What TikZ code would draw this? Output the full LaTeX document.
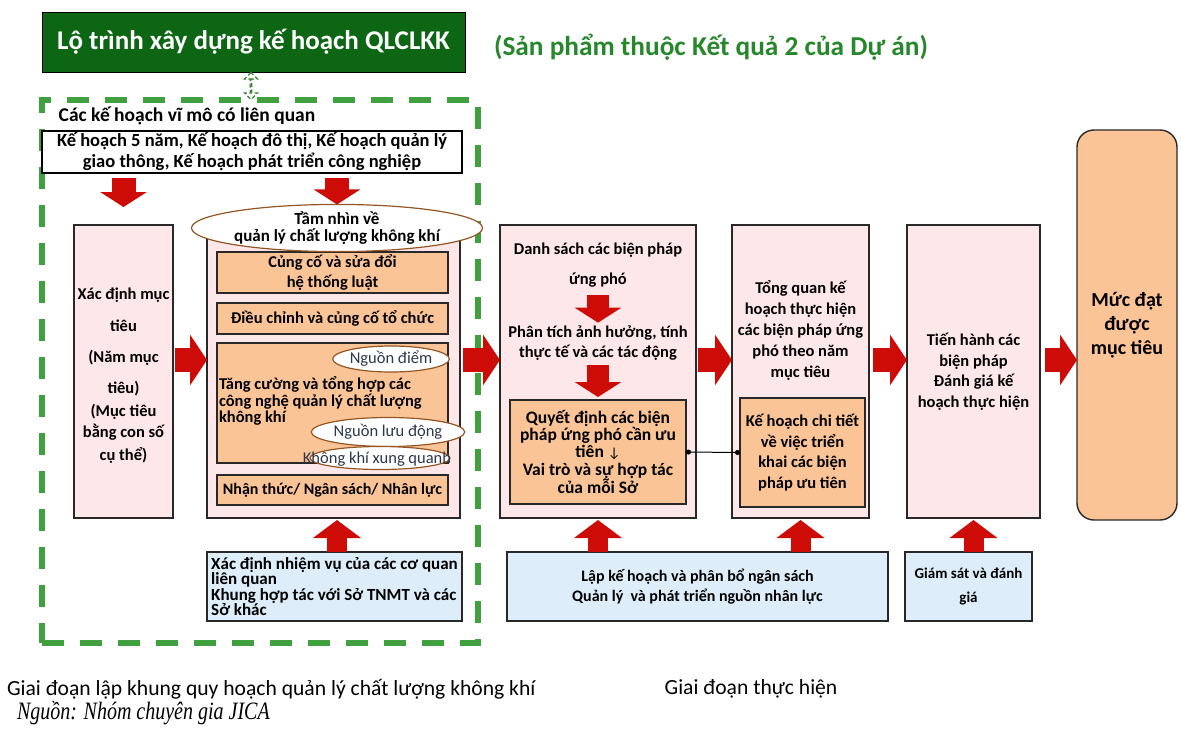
\documentclass[tikz,border=0pt]{standalone}
\usepackage{fontspec}
\setmainfont{Carlito}
\newfontfamily\srcfont{Liberation Serif}[FakeStretch=0.8]
\newfontfamily\symfont{DejaVu Sans}
\usetikzlibrary{arrows.meta,shapes.geometric,shapes.arrows,calc}

\definecolor{titlegreen}{RGB}{12,102,20}
\definecolor{subgreen}{RGB}{38,136,42}
\definecolor{dashgreen}{RGB}{64,160,64}
\definecolor{pinkfill}{RGB}{253,231,233}
\definecolor{orangefill}{RGB}{250,196,150}
\definecolor{bluefill}{RGB}{221,238,250}
\definecolor{arrowred}{RGB}{205,12,8}
\definecolor{ovalbrown}{RGB}{150,85,35}
\definecolor{edgegray}{RGB}{40,40,40}
\definecolor{ovaltext}{RGB}{45,55,75}

\tikzset{
  fs/.style 2 args={font=\bfseries\fontsize{#1}{#2}\selectfont},
  fsr/.style 2 args={font=\fontsize{#1}{#2}\selectfont},
  size/.style 2 args={minimum width=#1pt, minimum height=#2pt},
  base/.style={fs={16.5}{20}, align=center, inner sep=0pt, outer sep=0pt},
  stagebox/.style={base, draw=edgegray, line width=1.4pt, fill=pinkfill},
  itembox/.style={base, draw=edgegray, line width=1.4pt, fill=orangefill},
  supportbox/.style={base, draw=edgegray, line width=1.4pt, fill=bluefill},
  oval/.style={base, ellipse, draw=ovalbrown, line width=1.2pt, fill=white},
  flowarrow/.style={draw=arrowred, line width=24pt, -{Triangle[width=50pt,length=17pt]}},
  downarrow/.style={draw=arrowred, line width=24pt, -{Triangle[width=46pt,length=15pt]}},
  uparrow/.style={draw=arrowred, line width=20pt, -{Triangle[width=47pt,length=18pt]}},
  inarrow/.style={draw=arrowred, line width=22pt, -{Triangle[width=46pt,length=15pt]}},
  phaseframe/.style={draw=dashgreen, line width=6pt, dash pattern=on 22pt off 16pt, inner sep=0pt},
  linkblock/.style={double arrow, draw=dashgreen!85!black, line width=1.2pt, dash pattern=on 4pt off 2.5pt,
    fill=white, shape border rotate=90, double arrow head extend=5pt, inner sep=0pt},
  dotlink/.style={draw=black, line width=1pt, {Circle[length=5pt]}-{Circle[length=5pt]}},
}

\begin{document}
\begin{tikzpicture}[x=1pt,y=-1pt]
\useasboundingbox (0,0) rectangle (1181,729);
\fill[white] (0,0) rectangle (1181,729);

% heading
\node[base, fs={27}{32}, text=white, fill=titlegreen, draw=black, line width=1pt, size={423}{60}]
  (title) at (253.5,42) {Lộ trình xây dựng kế hoạch QLCLKK};
\node[base, fs={27.3}{31}, text=subgreen] (subtitle) at (711,47) {(Sản phẩm thuộc Kết quả 2 của Dự án)};

% planning phase frame
\node[phaseframe, size={436}{543}] (phase) at (260,371.5) {};
\node[linkblock, minimum height=27pt, minimum width=13pt] (link) at (251,86) {};

\node[base, fs={19.5}{22}] (macrohead) at (187,116) {Các kế hoạch vĩ mô có liên quan};
\node[base, fs={18.5}{21}, draw=black, line width=1.2pt, fill=white, size={420}{42}] (macro) at (252,152)
  {Kế hoạch 5 năm, Kế hoạch đô thị, Kế hoạch quản lý\\giao thông, Kế hoạch phát triển công nghiệp};

% goal setting
\node[stagebox, size={99}{293}] (goal) at (123.5,371.5) {};
\node[base] (goaltext) at (123.5,376)
  {Xác định mục\\[12pt]tiêu\\[11pt](Năm mục\\[11pt]tiêu)\\[3pt](Mục tiêu\\[1pt]bằng con số\\[3pt]cụ thể)};

% framework components
\node[stagebox, size={253}{293}] (frame) at (333.5,371.5) {};
\node[itembox, size={231}{41}] (law) at (332.5,272.5) {Củng cố và sửa đổi\\hệ thống luật};
\node[itembox, size={231}{31}] (org) at (332.5,318.5) {Điều chỉnh và củng cố tổ chức};
\node[itembox, size={231}{120}] (tech) at (332.5,403) {};
\node[base, fs={16.5}{16.5}, align=left, anchor=west] (techtext) at (219,401)
  {Tăng cường và tổng hợp các\\công nghệ quản lý chất lượng\\không khí};
\node[oval, fsr={16.5}{18}, text=ovaltext, size={114}{26}] (point) at (391,359) {Nguồn điểm};
\node[oval, fsr={16.5}{18}, text=ovaltext, size={117}{29}] (mobile) at (388,432) {Nguồn lưu động};
\node[oval, fsr={16.5}{18}, text=ovaltext, size={140}{23}] (ambient) at (380,458) {};
\node[base, fsr={16.5}{18}, text=ovaltext] (ambienttext) at (377,459) {Không khí xung quanh};
\node[itembox, fs={16}{19}, size={231}{30}] (aware) at (332.5,490) {Nhận thức/ Ngân sách/ Nhân lực};
\node[oval, fs={17}{17.5}, size={216}{43}] (vision) at (337,228) {Tầm nhìn về\\quản lý chất lượng không khí};

\node[supportbox, fs={17}{15.3}, align=left, size={255}{69}] (roles) at (334.5,586.5)
  {Xác định nhiệm vụ của các cơ quan\\liên quan\\Khung hợp tác với Sở TNMT và các\\Sở khác};

% implementation phase
\node[stagebox, size={196}{293}] (measures) at (598,371.5) {};
\node[base, fs={16.5}{30}] (listtext) at (598,265) {Danh sách các biện pháp\\ứng phó};
\node[base] (analysis) at (598,343) {Phân tích ảnh hưởng, tính\\thực tế và các tác động};
\node[itembox, fs={17.5}{17.3}, size={176}{104}] (decide) at (598,452)
  {Quyết định các biện\\pháp ứng phó cần ưu\\tiên {\symfont\normalfont\fontsize{14}{17}\selectfont ↓}\\Vai trò và sự hợp tác\\của mỗi Sở};

\node[stagebox, size={137}{293}] (overview) at (800.5,371.5) {};
\node[base, fs={16.5}{21}] (overviewtext) at (800.5,330)
  {Tổng quan kế\\hoạch thực hiện\\các biện pháp ứng\\phó theo năm\\mục tiêu};
\node[itembox, fs={16.5}{20.7}, size={125}{109}] (detail) at (802.5,452.5)
  {Kế hoạch chi tiết\\về việc triển\\khai các biện\\pháp ưu tiên};

\node[stagebox, fs={16.5}{20.5}, size={133}{293}] (execute) at (973.5,371.5)
  {Tiến hành các\\biện pháp\\Đánh giá kế\\hoạch thực hiện};

\node[base, fs={20}{24}, draw=edgegray, line width=1.4pt, fill=orangefill, rounded corners=17pt, size={100}{390}]
  (target) at (1127,325) {Mức đạt\\được\\mục tiêu};

\node[supportbox, fs={16}{20}, size={381}{69}] (budget) at (697.5,586.5)
  {Lập kế hoạch và phân bổ ngân sách\\Quản lý\ \ và phát triển nguồn nhân lực};
\node[supportbox, fs={15}{24}, size={127}{69}] (monitor) at (968.5,586.5) {Giám sát và đánh\\giá};

% flow arrows
\coordinate (row) at (0,360);
\draw[downarrow, shorten <=5pt, shorten >=18pt] (macro.south -| goal.north) -- (goal.north);
\draw[downarrow, shorten <=5pt] (macro.south -| vision.north) -- (vision.north);
\draw[flowarrow, shorten <=2pt] (goal.east |- row) -- (frame.west |- row);
\draw[flowarrow, shorten <=3pt] (frame.east |- row) -- (measures.west |- row);
\draw[flowarrow, shorten <=2pt] (measures.east |- row) -- (overview.west |- row);
\draw[flowarrow, shorten <=4pt] (overview.east |- row) -- (execute.west |- row);
\draw[flowarrow, shorten <=5pt] (execute.east |- row) -- (target.west |- row);

\draw[inarrow, shorten <=8pt, shorten >=3pt] (listtext.south) -- (analysis.north);
\draw[inarrow, shorten <=5pt, shorten >=3pt] (analysis.south) -- (decide.north);

\draw[uparrow, shorten >=2pt] (roles.north -| vision.north) -- (frame.south -| vision.north);
\draw[uparrow, shorten >=2pt] (budget.north -| measures.south) -- (measures.south);
\draw[uparrow, shorten >=2pt] (budget.north -| overview.south) -- (overview.south);
\draw[uparrow, shorten >=2pt] (monitor.north -| execute.south) -- (execute.south);

\draw[dotlink] (decide.east) -- (detail.west);

% phase captions and source
\node[base, fsr={21.6}{25}, anchor=west] (phaseA) at (7,689) {Giai đoạn lập khung quy hoạch quản lý chất lượng không khí};
\node[base, fsr={21.6}{25}] (phaseB) at (751,689) {Giai đoạn thực hiện};
\node[base, font=\srcfont\itshape\fontsize{25}{28}\selectfont, anchor=west] (source) at (17,713) {Nguồn: Nhóm chuyên gia JICA};
\end{tikzpicture}
\end{document}
